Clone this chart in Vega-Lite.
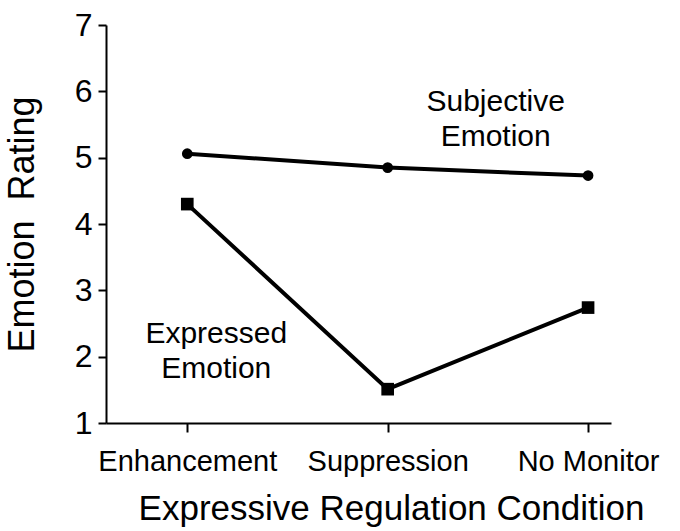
{
  "$schema": "https://vega.github.io/schema/vega-lite/v6.json",
  "width": 505,
  "height": 398,
  "autosize": "none",
  "padding": {"left": 106, "top": 25, "right": 69, "bottom": 108},
  "background": "white",
  "config": {
    "font": "Liberation Sans",
    "view": {"stroke": null},
    "axis": {
      "domainColor": "black",
      "tickColor": "black",
      "labelColor": "black",
      "titleColor": "black",
      "domainWidth": 2,
      "tickWidth": 2,
      "grid": false,
      "labelFont": "Liberation Sans",
      "titleFont": "Liberation Sans",
      "titleFontWeight": "normal"
    }
  },
  "datasets": {
    "series": [
      {"condition": "Enhancement", "measure": "Subjective Emotion", "rating": 5.06},
      {"condition": "Suppression", "measure": "Subjective Emotion", "rating": 4.85},
      {"condition": "No Monitor", "measure": "Subjective Emotion", "rating": 4.73},
      {"condition": "Enhancement", "measure": "Expressed Emotion", "rating": 4.3},
      {"condition": "Suppression", "measure": "Expressed Emotion", "rating": 1.51},
      {"condition": "No Monitor", "measure": "Expressed Emotion", "rating": 2.74}
    ],
    "note1": [{"condition": "Suppression", "rating": 5.84, "label": "Subjective\nEmotion"}],
    "note2": [{"condition": "Enhancement", "rating": 2.34, "label": "Expressed\nEmotion"}]
  },
  "encoding": {
    "x": {
      "field": "condition",
      "type": "ordinal",
      "sort": ["Enhancement", "Suppression", "No Monitor"],
      "scale": {"type": "point", "domain": ["Enhancement", "Suppression", "No Monitor"], "padding": 0.26, "align": 0.78},
      "axis": {"title": "Expressive Regulation Condition", "labelAngle": 0, "labelFontSize": 29, "labelPadding": 15, "tickSize": 9, "titleFontSize": 35, "titlePadding": 15, "titleX": 285}
    },
    "y": {
      "field": "rating",
      "type": "quantitative",
      "scale": {"domain": [1, 7], "nice": false, "zero": false},
      "axis": {"title": "Emotion\u00a0\u00a0Rating", "values": [1, 2, 3, 4, 5, 6, 7], "labelFontSize": 32, "labelPadding": 6, "tickSize": 8, "titleFontSize": 36, "titlePadding": 33}
    }
  },
  "layer": [
    {
      "data": {"name": "series"},
      "mark": {"type": "line", "color": "black", "strokeWidth": 4},
      "encoding": {"detail": {"field": "measure"}}
    },
    {
      "data": {"name": "series"},
      "mark": {"type": "point", "filled": true, "color": "black", "opacity": 1},
      "encoding": {
        "shape": {"field": "measure", "scale": {"domain": ["Subjective Emotion", "Expressed Emotion"], "range": ["circle", "square"]}, "legend": null},
        "size": {"field": "measure", "scale": {"type": "ordinal", "domain": ["Subjective Emotion", "Expressed Emotion"], "range": [115, 160]}, "legend": null}
      }
    },
    {
      "data": {"name": "note1"},
      "mark": {"type": "text", "fontSize": 30, "lineBreak": "\n", "lineHeight": 35, "align": "center", "baseline": "middle", "dx": 108, "color": "black"},
      "encoding": {"text": {"field": "label"}}
    },
    {
      "data": {"name": "note2"},
      "mark": {"type": "text", "fontSize": 30, "lineBreak": "\n", "lineHeight": 35, "align": "center", "baseline": "middle", "dx": 29, "color": "black"},
      "encoding": {"text": {"field": "label"}}
    }
  ]
}
